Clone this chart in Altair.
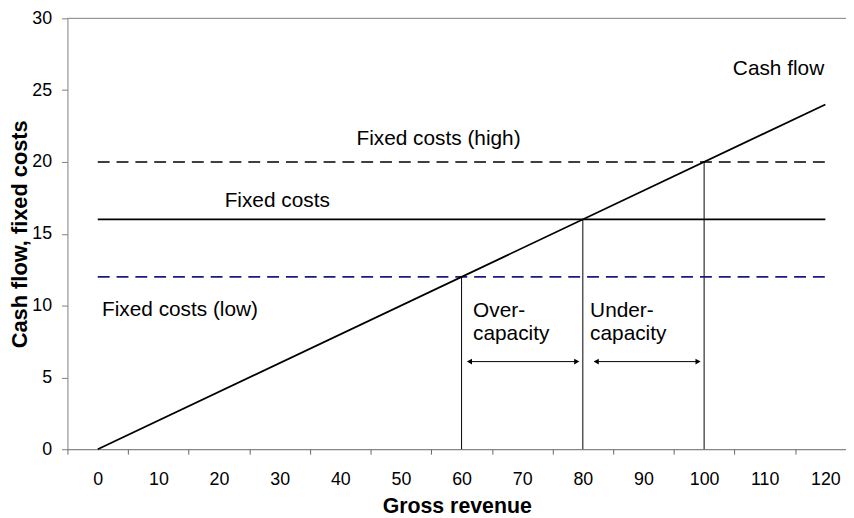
import altair as alt
import pandas as pd

FONT = "Liberation Sans"

# ---- data ----
x_tick_values = [0, 10, 20, 30, 40, 50, 60, 70, 80, 90, 100, 110, 120]
y_tick_values = [0, 5, 10, 15, 20, 25, 30]

cash_x = [0, 120]
cash_y = [0, 24]

fixed_x = [0, 120]
fixed_high = [20, 20]
fixed_mid = [16, 16]
fixed_low = [12, 12]

drop_x = [60, 80, 100]
drop_top = [12, 16, 20]

arrow_from = [61.3, 82.2]
arrow_to = [79.0, 99.0]
arrow_y = [6.1, 6.1]

center_text = ["Fixed costs (high)", "Fixed costs"]
center_x = [56.2, 29.6]
center_y = [21.6, 17.3]

left_text = ["Fixed costs (low)", "Over-", "capacity", "Under-", "capacity"]
left_x = [0.7, 61.9, 61.9, 81.2, 81.2]
left_y = [9.7, 9.6, 8.0, 9.6, 8.0]

right_text = ["Cash flow"]
right_x = [119.8]
right_y = [26.5]

# ---- scales / axes ----
xs = alt.Scale(domain=[-5, 123.4], nice=False, zero=False)
ys = alt.Scale(domain=[0, 30], nice=False, zero=True)
px_per_unit = 786 / 128.4
x_axis = alt.Axis(values=x_tick_values, title="Gross revenue", grid=False,
                  tickOffset=-5 * px_per_unit, labelOffset=5 * px_per_unit,
                  tickSize=5, labelPadding=17, titlePadding=7, titleFontSize=21.5,
                  domainColor="#666666", tickColor="#666666")
y_axis = alt.Axis(values=y_tick_values, title="Cash flow, fixed costs", grid=False,
                  tickSize=6, labelPadding=10, titlePadding=0, titleFontSize=22,
                  domainColor="#808080", tickColor="#808080")

def X(f):
    return alt.X(f, type="quantitative", scale=xs, axis=x_axis)

def Y(f):
    return alt.Y(f, type="quantitative", scale=ys, axis=y_axis)

cash_df = pd.DataFrame({"x": cash_x, "y": cash_y})
fix_df = pd.DataFrame({"x": fixed_x * 3,
                       "y": fixed_high + fixed_mid + fixed_low,
                       "s": ["high"] * 2 + ["mid"] * 2 + ["low"] * 2})
drop_df = pd.DataFrame({"x": drop_x, "y0": [0] * len(drop_x), "y1": drop_top})
arrow_df = pd.DataFrame({"x1": arrow_from, "x2": arrow_to, "y": arrow_y})
top_df = pd.DataFrame({"x1": [-5], "x2": [123.4], "y": [30]})

base_line = alt.Chart(cash_df).mark_line(color="black", strokeWidth=1.8).encode(x=X("x"), y=Y("y"))

high = alt.Chart(fix_df[fix_df.s == "high"]).mark_line(
    color="black", strokeWidth=1.6, strokeDash=[12, 7]).encode(x=X("x"), y=Y("y"))
mid = alt.Chart(fix_df[fix_df.s == "mid"]).mark_line(
    color="black", strokeWidth=1.6).encode(x=X("x"), y=Y("y"))
low = alt.Chart(fix_df[fix_df.s == "low"]).mark_line(
    color="#1a1a80", strokeWidth=1.6, strokeDash=[12, 7]).encode(x=X("x"), y=Y("y"))

drops = alt.Chart(drop_df).mark_rule(color="black", strokeWidth=1).encode(
    x=X("x"), y=Y("y0"), y2="y1")

top_rule = alt.Chart(top_df).mark_rule(color="#808080", strokeWidth=1).encode(
    x=X("x1"), x2="x2", y=Y("y"))

arrows = alt.Chart(arrow_df).mark_rule(color="black", strokeWidth=1).encode(
    x=X("x1"), x2="x2", y=Y("y"))
heads_l = alt.Chart(arrow_df).mark_point(shape="triangle-left", filled=True, color="black",
                                         size=36, opacity=1).encode(x=X("x1"), y=Y("y"))
heads_r = alt.Chart(arrow_df).mark_point(shape="triangle-right", filled=True, color="black",
                                         size=36, opacity=1).encode(x=X("x2"), y=Y("y"))

tc = alt.Chart(pd.DataFrame({"t": center_text, "x": center_x, "y": center_y})).mark_text(
    font=FONT, fontSize=21, align="center", baseline="middle", color="black").encode(
    x=X("x"), y=Y("y"), text="t:N")
tl = alt.Chart(pd.DataFrame({"t": left_text, "x": left_x, "y": left_y})).mark_text(
    font=FONT, fontSize=21, align="left", baseline="middle", color="black").encode(
    x=X("x"), y=Y("y"), text="t:N")
tr = alt.Chart(pd.DataFrame({"t": right_text, "x": right_x, "y": right_y})).mark_text(
    font=FONT, fontSize=21, align="right", baseline="middle", color="black").encode(
    x=X("x"), y=Y("y"), text="t:N")

chart = alt.layer(top_rule, drops, mid, high, low, base_line, arrows, heads_l, heads_r,
                  tc, tl, tr).properties(
    width=786, height=435,
    autosize="none",
    padding={"left": 60, "top": 8, "right": 0, "bottom": 66},
).configure_view(stroke=None).configure_axis(
    labelFont=FONT, labelFontSize=18, labelColor="black",
    titleFont=FONT, titleFontWeight="bold", titleColor="black",
)

chart.save("out.html", embed_options={"renderer": "svg", "actions": False})
